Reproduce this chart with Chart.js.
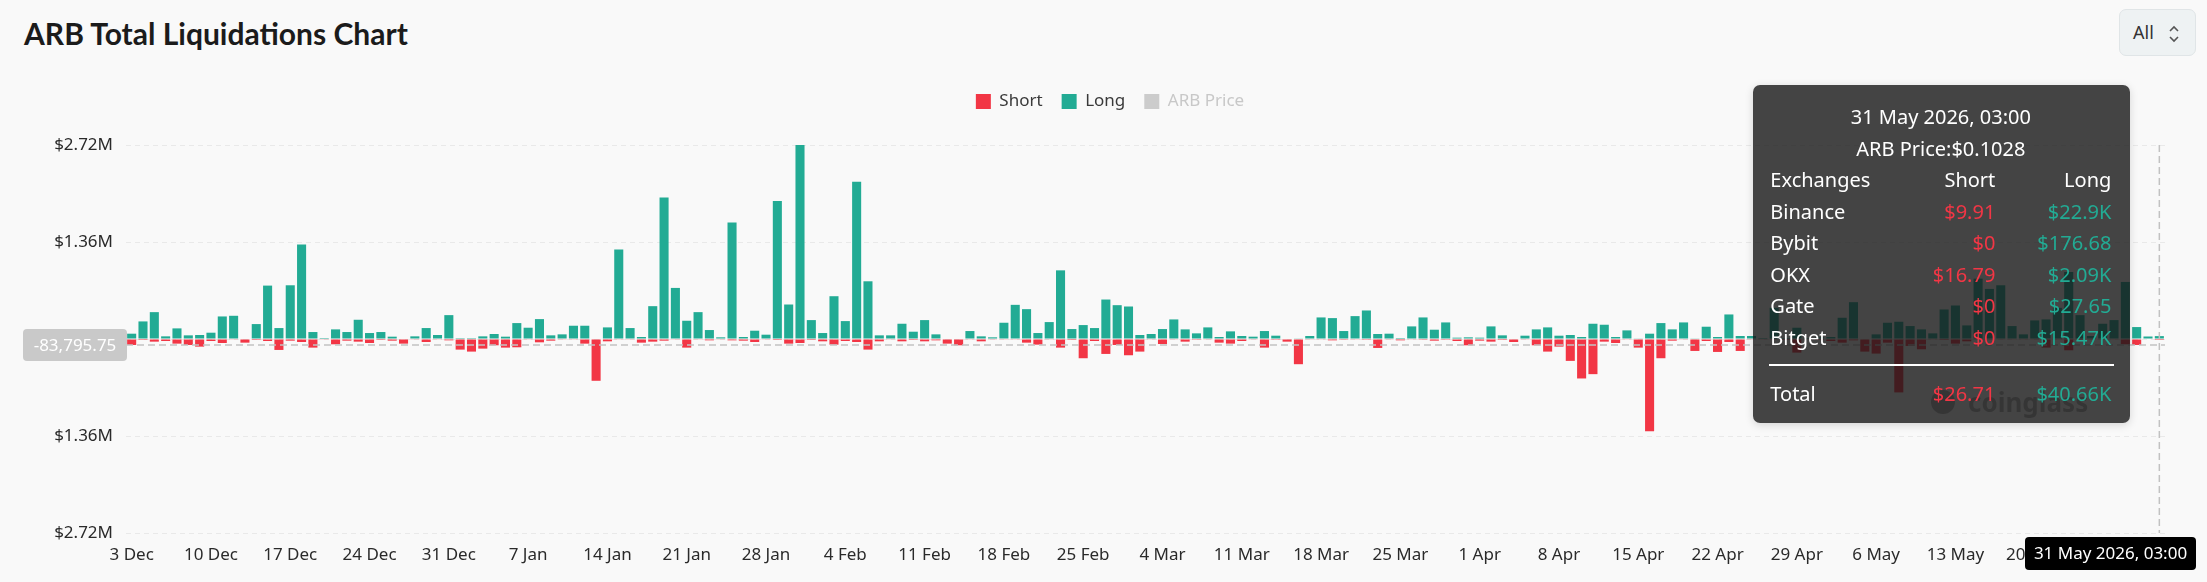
<!DOCTYPE html>
<html>
<head>
<meta charset="utf-8">
<title>ARB Total Liquidations Chart</title>
<script src="https://cdn.jsdelivr.net/npm/chart.js@4.4.1/dist/chart.umd.min.js"></script>
<style>
  html, body { margin: 0; padding: 0; background: #f9f9f9; }
  body { width: 2207px; height: 582px; position: relative; overflow: hidden; font-family: 'Noto Sans', sans-serif; }
  #title { position: absolute; left: 24px; top: 15px; font: 700 30px Lato, sans-serif; color: #1b1b1b; line-height: 36px; }
  #range { position: absolute; left: 2119px; top: 9px; width: 77px; height: 47px; box-sizing: border-box;
           border: 1px solid #e0e5e7; border-radius: 7px; background: #eef2f3; color: #333;
           font: 18px 'Noto Sans', sans-serif; line-height: 45px; padding-left: 13px; }
  #range svg { position: absolute; left: 48px; top: 14px; }
  #chart { position: absolute; left: 0; top: 0; }
  #tip { position: absolute; display: none; box-sizing: border-box; width: 377px; height: 338px;
         padding: 16px 19px 0 17px; background: rgba(22, 22, 22, 0.8); border-radius: 7px;
         box-shadow: 0 2px 8px rgba(0, 0, 0, 0.15); color: #fff; font: 20px 'Noto Sans', sans-serif; }
  #tip .c { text-align: center; height: 31.5px; line-height: 31.5px; }
  #tip .row { display: grid; grid-template-columns: 1fr 110px 116px; height: 31.5px; line-height: 31.5px; }
  #tip .row span + span { text-align: right; }
  #tip .s { color: #f23645; }
  #tip .l { color: #22ab94; }
  #tip .sep { height: 2px; background: #fff; margin: 11px -3px 12px -1px; }
</style>
</head>
<body>
<div id="title">ARB Total Liquidations Chart</div>
<div id="range">All
  <svg width="12" height="20" viewBox="0 0 12 20"><path d="M2 7 L6 3 L10 7 M2 13 L6 17 L10 13" fill="none" stroke="#555" stroke-width="1.6"/></svg>
</div>
<canvas id="chart" width="2207" height="582"></canvas>
<div id="tip"></div>
<script>
const startDate = new Date(2025, 11, 3);
const dayCount = 180;
const monthNames = ['Jan', 'Feb', 'Mar', 'Apr', 'May', 'Jun', 'Jul', 'Aug', 'Sep', 'Oct', 'Nov', 'Dec'];

// long liquidations per day, USD
const longVals = [
  74400, 246500, 376700, 37200, 148800, 51200, 55800, 88400, 316200, 325500,
  0, 209300, 748700, 153500, 753300, 1325300, 97700, 14000, 134900, 97700,
  269700, 83700, 97700, 32600, 0, 37200, 153500, 55800, 334800, 1000,
  1000, 37200, 69800, 32600, 223200, 158100, 279000, 51200, 65100, 186000,
  186000, 0, 162800, 1255500, 153500, 27900, 460400, 1985600, 716100, 255800,
  376700, 125600, 23300, 1632200, 27900, 116300, 60500, 1934400, 483600, 2720000,
  265100, 83700, 599900, 251100, 2204100, 809100, 51200, 51200, 213900, 102300,
  265100, 65100, 0, 0, 111600, 37200, 23300, 227900, 479000, 418500,
  83700, 237200, 962600, 139500, 195300, 153500, 553400, 474300, 455700, 55800,
  69800, 139500, 274400, 134900, 79100, 162800, 27900, 107000, 41900, 32600,
  111600, 46500, 0, 9300, 41900, 302300, 293000, 111600, 320900, 399900,
  69800, 74400, 14000, 176700, 302300, 130200, 232500, 18600, 23300, 18600,
  176700, 51200, 0, 46500, 134900, 162800, 46500, 55800, 27900, 213900,
  200000, 27900, 120900, 9300, 74400, 223200, 134900, 232500, 9300, 172100,
  27900, 344100, 41900, 41900, 14000, 437100, 14000, 158100, 14000, 23300,
  27900, 297600, 516200, 0, 65100, 227900, 241800, 181400, 134900, 79100,
  413900, 469700, 190700, 846300, 702200, 753300, 181400, 65100, 260400, 274400,
  437100, 939300, 334800, 41900, 213900, 265100, 799800, 167400, 35000, 40660
];

// short liquidations per day, USD (drawn below zero)
const shortVals = [
  83700, 14000, 37200, 27900, 65100, 83700, 107000, 27900, 55800, 9300,
  51200, 14000, 27900, 153500, 23300, 41900, 120900, 9300, 74400, 23300,
  37200, 55800, 14000, 23300, 65100, 4700, 41900, 9300, 18600, 148800,
  176700, 134900, 88400, 120900, 116300, 9300, 46500, 23300, 4700, 4700,
  65100, 585900, 32600, 9300, 4700, 51200, 37200, 23300, 9300, 120900,
  4700, 18600, 4700, 18600, 23300, 41900, 9300, 14000, 65100, 55800,
  14000, 32600, 79100, 27900, 41900, 148800, 32600, 9300, 32600, 14000,
  32600, 18600, 65100, 88400, 9300, 32600, 9300, 9300, 9300, 51200,
  79100, 9300, 120900, 14000, 269700, 27900, 209300, 83700, 227900, 176700,
  9300, 69800, 9300, 37200, 2000, 4700, 51200, 65100, 27900, 9300,
  120900, 2000, 37200, 353400, 9300, 4700, 18600, 2000, 4700, 2000,
  125600, 9300, 18600, 9300, 2000, 23300, 2000, 27900, 88400, 23300,
  37200, 14000, 41900, 4700, 88400, 176700, 107000, 306900, 553400, 492900,
  37200, 55800, 9300, 120900, 1292700, 269700, 23300, 9300, 167400, 27900,
  181400, 41900, 167400, 9300, 9300, 4700, 14000, 190700, 9300, 14000,
  27900, 51200, 18600, 176700, 204600, 51200, 748700, 97700, 144200, 9300,
  14000, 65100, 32600, 4700, 9300, 9300, 9300, 9300, 9300, 120900,
  9300, 158100, 9300, 9300, 9300, 9300, 74400, 83700, 0, 26.71
];

const yTicks = [2720000, 1360000, 0, -1360000, -2720000];

// hovered point shown in the reference
const cursorIndex = 179;
const cursorValue = -83795.75;
const cursorLabel = '31 May 2026, 03:00';
const cursorPrice = 0.1028;
const exchanges = ['Binance', 'Bybit', 'OKX', 'Gate', 'Bitget'];
const exShort = [9.91, 0, 16.79, 0, 0];
const exLong = [22900, 176.68, 2090, 27.65, 15470];

const labels = [];
for (let i = 0; i < dayCount; i++) {
  const d = new Date(startDate.getFullYear(), startDate.getMonth(), startDate.getDate() + i);
  labels.push(d.getDate() + ' ' + monthNames[d.getMonth()]);
}

const RED = '#f23645';
const GREEN = '#22ab94';
const FONT = "'Noto Sans', sans-serif";

function money(v) {
  v = Math.abs(v);
  if (v >= 1e6) return '$' + parseFloat((v / 1e6).toFixed(2)) + 'M';
  if (v >= 1e3) return '$' + parseFloat((v / 1e3).toFixed(2)) + 'K';
  return '$' + parseFloat(v.toFixed(2));
}

function renderTip(context) {
  const { chart, tooltip } = context;
  const el = document.getElementById('tip');
  if (!tooltip.opacity || !tooltip.dataPoints || !tooltip.dataPoints.length) { el.style.display = 'none'; return; }
  const i = tooltip.dataPoints[0].dataIndex;
  let html = '<div class="c">' + cursorLabel + '</div>';
  html += '<div class="c">ARB Price:$' + cursorPrice + '</div>';
  html += '<div class="row"><span>Exchanges</span><span>Short</span><span>Long</span></div>';
  exchanges.forEach((name, k) => {
    html += '<div class="row"><span>' + name + '</span><span class="s">' + money(exShort[k]) +
            '</span><span class="l">' + money(exLong[k]) + '</span></div>';
  });
  html += '<div class="sep"></div>';
  html += '<div class="row"><span>Total</span><span class="s">' + money(shortVals[i]) +
          '</span><span class="l">' + money(longVals[i]) + '</span></div>';
  el.innerHTML = html;
  el.style.display = 'block';
  const cx = chart.scales.x.getPixelForValue(i);
  el.style.left = (chart.canvas.offsetLeft + cx - 29 - 377) + 'px';
  el.style.top = (chart.canvas.offsetTop + chart.chartArea.top - 60) + 'px';
}

// extra room between the legend and the plot
const legendGap = {
  id: 'legendGap',
  beforeLayout(chart) {
    const legend = chart.legend;
    if (!legend || legend._gapPatched) return;
    const fit = legend.fit;
    legend.fit = function () {
      fit.call(this);
      this.height += 25;
    };
    legend._gapPatched = true;
  }
};

const watermark = {
  id: 'watermark',
  beforeDatasetsDraw(chart) {
    const ctx = chart.ctx;
    ctx.save();
    ctx.fillStyle = 'rgba(0, 0, 0, 0.3)';
    ctx.beginPath();
    ctx.arc(1943, 402, 12, 0, Math.PI * 2);
    ctx.fill();
    ctx.font = '700 26px ' + FONT;
    ctx.textBaseline = 'alphabetic';
    ctx.fillText('coinglass', 1968, 412);
    ctx.restore();
  }
};

const crosshair = {
  id: 'crosshair',
  afterDraw(chart) {
    const { ctx, chartArea: a, scales: { x, y } } = chart;
    const cx = x.getPixelForValue(cursorIndex);
    const cy = y.getPixelForValue(cursorValue);
    ctx.save();
    ctx.strokeStyle = '#c2c2c2';
    ctx.lineWidth = 1.5;
    ctx.setLineDash([7, 4]);
    ctx.beginPath();
    ctx.moveTo(a.left, cy); ctx.lineTo(a.right, cy);
    ctx.moveTo(cx, a.top); ctx.lineTo(cx, a.bottom);
    ctx.stroke();
    ctx.setLineDash([]);

    ctx.font = '17px ' + FONT;
    ctx.textAlign = 'center';
    ctx.textBaseline = 'middle';

    // value label on the y axis
    const yText = cursorValue.toLocaleString('en-US', { minimumFractionDigits: 2 });
    ctx.fillStyle = '#c9c9c9';
    ctx.beginPath();
    ctx.roundRect(a.left - 103, cy - 16, 104, 32, 4);
    ctx.fill();
    ctx.fillStyle = '#fff';
    ctx.fillText(yText, a.left - 51, cy + 1);

    // date label on the x axis
    const w = 171;
    const bx = Math.min(cx - w / 2, chart.width - 11 - w);
    ctx.fillStyle = '#000';
    ctx.beginPath();
    ctx.roundRect(bx, a.bottom + 4, w, 33, 4);
    ctx.fill();
    ctx.fillStyle = '#fff';
    ctx.fillText(cursorLabel, bx + w / 2, a.bottom + 21);
    ctx.restore();
  }
};

const chart = new Chart(document.getElementById('chart'), {
  type: 'bar',
  data: {
    labels: labels,
    datasets: [{
      label: 'Short',
      data: shortVals.map(v => -v),
      backgroundColor: RED,
      legendColor: RED,
      categoryPercentage: 1,
      barPercentage: 0.8
    }, {
      label: 'Long',
      data: longVals,
      backgroundColor: GREEN,
      legendColor: GREEN,
      categoryPercentage: 1,
      barPercentage: 0.8
    }, {
      type: 'line',
      label: 'ARB Price',
      data: [],
      hidden: true,
      legendColor: '#cccccc'
    }]
  },
  options: {
    responsive: false,
    animation: false,
    events: [],
    layout: { padding: { top: 74, left: 55, right: 42, bottom: 0 } },
    plugins: {
      legend: {
        position: 'top',
        labels: {
          boxWidth: 15,
          boxHeight: 15,
          padding: 19,
          font: { family: FONT, size: 17 },
          generateLabels: chart => chart.data.datasets.map((ds, i) => ({
            text: ds.label,
            fillStyle: ds.legendColor,
            strokeStyle: ds.legendColor,
            lineWidth: 0,
            hidden: false,
            fontColor: i === 2 ? '#c8c8c8' : '#3a3a3a',
            datasetIndex: i
          }))
        }
      },
      tooltip: { enabled: false, external: renderTip }
    },
    scales: {
      x: {
        stacked: true,
        grid: { display: false },
        border: { display: false },
        ticks: {
          autoSkip: false,
          maxRotation: 0,
          padding: 4,
          color: '#2a2a2a',
          font: { family: FONT, size: 17 },
          callback: (v, i) => (i % 7 === 0 ? labels[i] : '')
        },
        afterFit: s => { s.height = 49; }
      },
      y: {
        stacked: true,
        min: yTicks[yTicks.length - 1],
        max: yTicks[0],
        afterBuildTicks: s => { s.ticks = yTicks.map(v => ({ value: v })); },
        grid: { color: '#e9e9e9', drawTicks: false },
        border: { display: false, dash: [5, 4] },
        ticks: {
          padding: 13,
          color: '#2a2a2a',
          font: { family: FONT, size: 17 },
          callback: v => (v === 0 ? '' : money(v))
        },
        afterFit: s => { s.width = 71; }
      }
    }
  },
  plugins: [legendGap, watermark, crosshair]
});

chart.tooltip.setActiveElements(
  [{ datasetIndex: 0, index: cursorIndex }, { datasetIndex: 1, index: cursorIndex }],
  { x: chart.scales.x.getPixelForValue(cursorIndex), y: chart.scales.y.getPixelForValue(cursorValue) }
);
chart.update('none');
</script>
</body>
</html>
